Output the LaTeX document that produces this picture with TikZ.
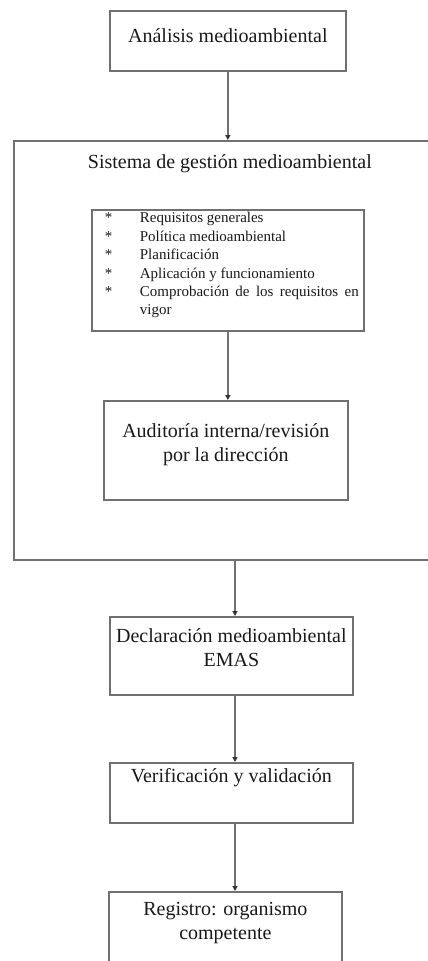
\documentclass[tikz,border=0pt]{standalone}
\usepackage{fontspec}
\setmainfont{Liberation Serif}
\usepackage{xcolor}
\usetikzlibrary{arrows.meta,positioning,calc}
\definecolor{gris}{RGB}{112,112,112}
\definecolor{texto}{RGB}{25,25,25}
% texto arriba dentro de una caja de alto fijo
\newcommand{\cajatexto}[4]{\parbox[c][#1][t]{#2}{\centering\rule{0pt}{#3}#4\par}}
\newcommand{\punto}[1]{\hangindent=48pt\hangafter=1\noindent\hspace*{13pt}\makebox[35pt][l]{*}#1\par}

\begin{document}
\begin{tikzpicture}[x=1pt,y=-1pt]
  \tikzset{
    caja/.style={draw=gris, line width=1.7pt, inner sep=0pt, anchor=north west,
      text=texto, font=\fontsize{20}{24}\selectfont},
    flecha/.style={draw=gris, line width=1.4pt,
      -{Triangle[length=5pt,width=5pt,color=black!80]}}
  }
  \useasboundingbox (0,0) rectangle (428,961);
    \node[caja] (analisis) at (109,10) {\cajatexto{60pt}{236pt}{32pt}{Análisis medioambiental}};
    \node[caja] (sistema) at (13,140) {\cajatexto{419pt}{432pt}{28pt}{Sistema de gestión medioambiental}};
    \node[caja, font=\fontsize{15}{18.4}\selectfont] (requisitos) at (91,209)
      {\parbox[c][121pt][t]{272pt}{\rightskip=5pt
        \punto{\rule{0pt}{13pt}Requisitos generales}
        \punto{Política medioambiental}
        \punto{Planificación}
        \punto{Aplicación y funcionamiento}
        \punto{Comprobación de los requisitos en\linebreak vigor}}};
    \node[caja] (auditoria) at (103,400) {\cajatexto{99pt}{244pt}{37pt}{Auditoría interna/revisión\\por la dirección}};
    \node[caja] (declaracion) at (109,616) {\cajatexto{78pt}{243pt}{26pt}{Declaración medioambiental\\EMAS}};
    \node[caja] (verificacion) at (109,762) {\cajatexto{60pt}{243pt}{20pt}{Verificación y validación}};
    \node[caja] (registro) at (108,891) {\cajatexto{100pt}{233pt}{24pt}{Registro: organismo\\competente}};
    % flechas
    \draw[flecha] (analisis.south) -- (analisis.south |- sistema.north);
    \draw[flecha] (requisitos.south) -- (requisitos.south |- auditoria.north);
    \coordinate (eje) at (235,0);
    \draw[flecha] (eje |- sistema.south) -- (eje |- declaracion.north);
    \draw[flecha] (eje |- declaracion.south) -- (eje |- verificacion.north);
    \draw[flecha] (eje |- verificacion.south) -- (eje |- registro.north);
\end{tikzpicture}
\end{document}
